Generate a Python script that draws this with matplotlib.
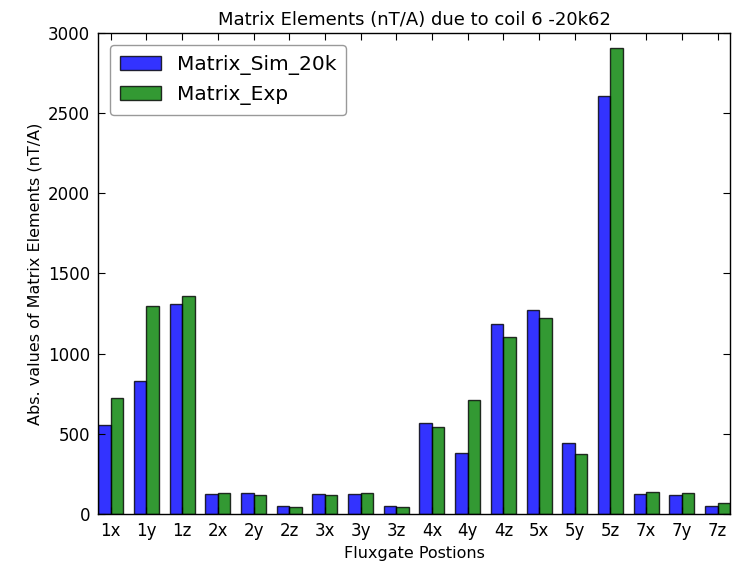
import numpy as np
import matplotlib
matplotlib.use("Agg")
import matplotlib.pyplot as plt

categories = ["1x", "1y", "1z", "2x", "2y", "2z", "3x", "3y", "3z",
              "4x", "4y", "4z", "5x", "5y", "5z", "7x", "7y", "7z"]
sim_values = [555, 830, 1310, 122, 130, 48, 122, 122, 48,
              570, 380, 1185, 1272, 440, 2605, 122, 118, 48]
exp_values = [724, 1298, 1360, 128, 118, 42, 118, 128, 42,
              540, 712, 1105, 1225, 372, 2905, 135, 128, 68]

fig = plt.figure(figsize=(7.33, 5.62), dpi=100, facecolor="white")
ax = fig.add_axes([0.134, 0.0854, 0.862, 0.856])

idx = np.arange(len(categories))
w = 0.35
ax.bar(idx, sim_values, w, align="edge", color="b", alpha=0.8,
       edgecolor="black", linewidth=1, label="Matrix_Sim_20k")
ax.bar(idx + w, exp_values, w, align="edge", color="g", alpha=0.8,
       edgecolor="black", linewidth=1, label="Matrix_Exp")

ax.set_xlim(0, len(categories) - 1 + 2 * w)
ax.set_ylim(0, 3000)
ax.set_xticks(idx + w)
ax.set_xticklabels(categories)
ax.set_yticks(np.arange(0, 3001, 500))
ax.tick_params(direction="in", top=True, right=True, labelsize=12, length=5, pad=6)
for s in ax.spines.values():
    s.set_linewidth(1)

ax.set_title("Matrix Elements (nT/A) due to coil 6 -20k62", fontsize=13)
ax.set_xlabel("Fluxgate Postions", fontsize=11.5)
ax.set_ylabel("Abs. values of Matrix Elements (nT/A)", fontsize=11.5)

leg = ax.legend(loc="upper left", fontsize=14.5, fancybox=True, framealpha=1,
                handlelength=2, borderpad=0.5, borderaxespad=0.6)
leg.get_frame().set_edgecolor("#999999")

fig.savefig("out.png", dpi=100, facecolor="white")
